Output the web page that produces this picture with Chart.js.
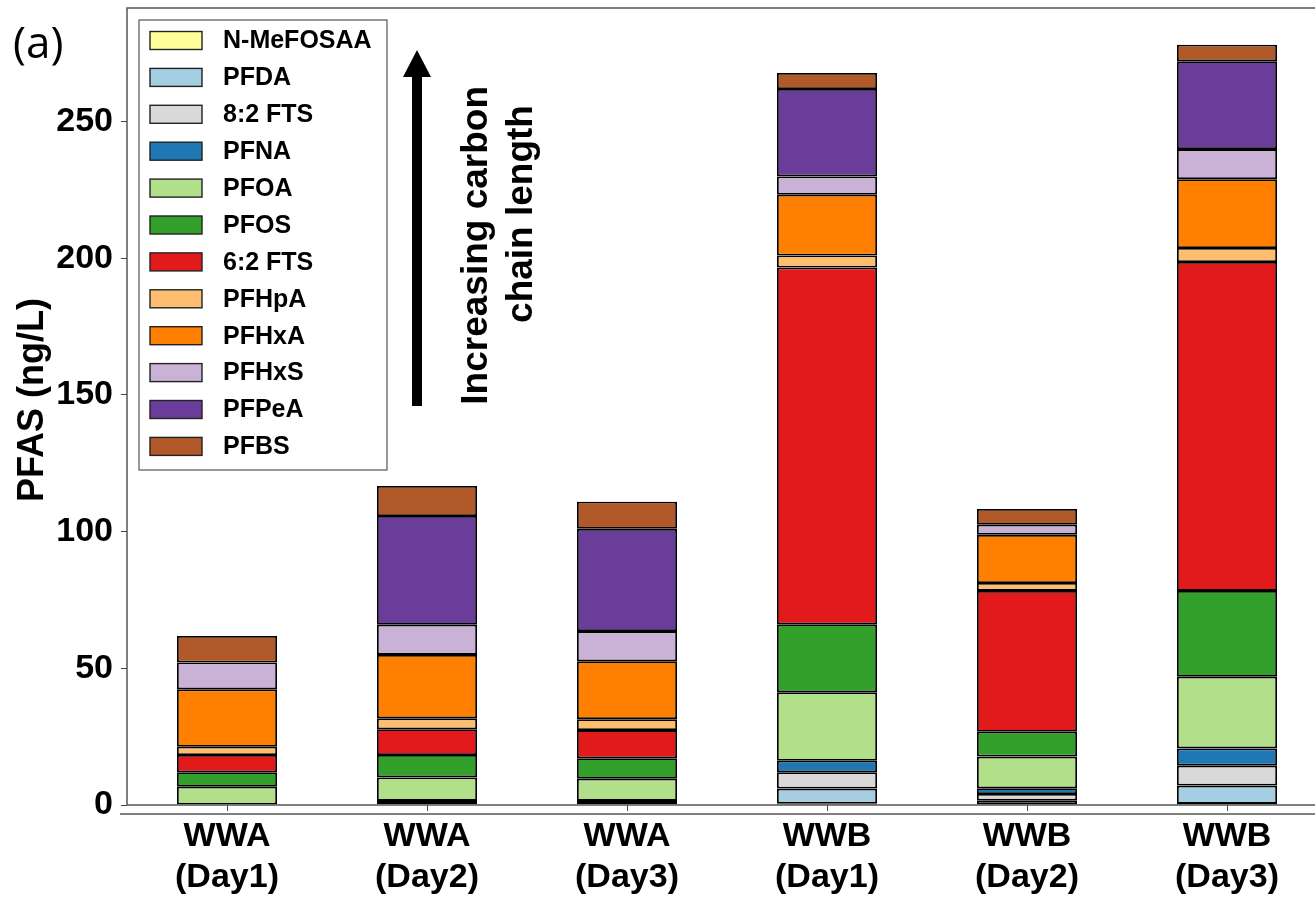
<!DOCTYPE html>
<html>
<head>
<meta charset="utf-8">
<script src="https://cdn.jsdelivr.net/npm/chart.js@4.4.1/dist/chart.umd.min.js"></script>
<style>
    html, body { margin: 0; padding: 0; background: #fff; overflow: hidden; }
    #pfasChart { display: block; }
</style>
</head>
<body>
<canvas id="pfasChart" width="1330" height="900" style="width:1330px;height:900px"></canvas>
<script>
// categories (two-line labels)
const categories = [
    ["WWA", "(Day1)"], ["WWA", "(Day2)"], ["WWA", "(Day3)"],
    ["WWB", "(Day1)"], ["WWB", "(Day2)"], ["WWB", "(Day3)"]
];

// series, bottom of stack first (also legend order)
const seriesNames = ["N-MeFOSAA", "PFDA", "8:2 FTS", "PFNA", "PFOA", "PFOS",
    "6:2 FTS", "PFHpA", "PFHxA", "PFHxS", "PFPeA", "PFBS"];
const seriesColors = ["#ffff99", "#a6cee3", "#d9d9d9", "#1f78b4", "#b2df8a", "#33a02c",
    "#e31a1c", "#fdbf6f", "#ff7f00", "#cab2d6", "#6a3d9a", "#b15928"];

// ng/L
const nMeFOSAA = [0, 0, 0, 0.5, 0, 0.4];
const pfda     = [0, 0.3, 0.3, 5.5, 1.6, 6.7];
const fts82    = [0, 0, 0, 6.0, 2.4, 7.3];
const pfna     = [0, 1.2, 1.2, 4.2, 2.1, 6.3];
const pfoa     = [6.7, 8.6, 8.1, 25.0, 11.6, 26.2];
const pfos     = [5.3, 8.2, 7.5, 24.9, 9.1, 31.4];
const fts62    = [6.3, 9.4, 10.3, 130.5, 51.5, 120.3];
const pfhpa    = [3.0, 4.0, 4.0, 4.4, 2.9, 5.1];
const pfhxa    = [21.0, 23.2, 21.2, 22.2, 17.6, 25.2];
const pfhxs    = [9.8, 11.0, 11.0, 6.7, 3.7, 11.0];
const pfpea    = [0, 39.8, 37.4, 32.0, 0, 32.1];
const pfbs     = [9.7, 11.0, 9.9, 5.8, 5.8, 6.1];

const seriesValues = [nMeFOSAA, pfda, fts82, pfna, pfoa, pfos, fts62, pfhpa, pfhxa, pfhxs, pfpea, pfbs];

const yTicks = [0, 50, 100, 150, 200, 250];
const yMax = 291.5;

const FONT = "'Liberation Sans', Arial, sans-serif";

// frame, legend, arrow and annotations
const decorPlugin = {
    id: "decor",
    afterDraw(chart) {
        const ctx = chart.ctx;
        const area = chart.chartArea;
        ctx.save();

        // axes frame
        ctx.strokeStyle = "#555";
        ctx.lineWidth = 1.5;
        ctx.strokeRect(area.left, area.top, area.right - area.left, area.bottom - area.top);
        ctx.beginPath();
        ctx.moveTo(area.left - 7, area.bottom + 9);
        ctx.lineTo(chart.width, area.bottom + 9);
        ctx.stroke();

        // panel tag
        ctx.fillStyle = "#000";
        ctx.font = "44px 'Open Sans', sans-serif";
        ctx.textAlign = "left";
        ctx.textBaseline = "middle";
        ctx.fillText("(a)", 13, 45);

        // y title
        ctx.save();
        ctx.translate(33, 400);
        ctx.rotate(-Math.PI / 2);
        ctx.font = "bold 36px " + FONT;
        ctx.textAlign = "center";
        ctx.textBaseline = "middle";
        ctx.fillText("PFAS (ng/L)", 0, 0);
        ctx.restore();

        // legend
        const lx = 139, ly = 20, lw = 248, lh = 450;
        ctx.fillStyle = "#fff";
        ctx.fillRect(lx, ly, lw, lh);
        ctx.strokeStyle = "#555";
        ctx.lineWidth = 1.2;
        ctx.strokeRect(lx, ly, lw, lh);
        ctx.font = "bold 25px " + FONT;
        ctx.textAlign = "left";
        ctx.textBaseline = "middle";
        seriesNames.forEach((name, i) => {
            const cy = 40.5 + i * 36.9;
            ctx.fillStyle = seriesColors[i];
            ctx.fillRect(150, cy - 9, 52, 18);
            ctx.strokeStyle = "#222";
            ctx.lineWidth = 1.4;
            ctx.strokeRect(150, cy - 9, 52, 18);
            ctx.fillStyle = "#000";
            ctx.fillText(name, 223, cy + 1);
        });

        // arrow
        ctx.fillStyle = "#000";
        ctx.fillRect(412, 74, 10, 332);
        ctx.beginPath();
        ctx.moveTo(417, 50);
        ctx.lineTo(431, 77);
        ctx.lineTo(403, 77);
        ctx.closePath();
        ctx.fill();

        // arrow text
        ctx.save();
        ctx.font = "bold 37px " + FONT;
        ctx.textAlign = "right";
        ctx.textBaseline = "middle";
        ctx.translate(477, 86);
        ctx.rotate(-Math.PI / 2);
        ctx.fillText("Increasing carbon", 0, 0);
        ctx.restore();
        ctx.save();
        ctx.font = "bold 37px " + FONT;
        ctx.textAlign = "center";
        ctx.textBaseline = "middle";
        ctx.translate(522, 214);
        ctx.rotate(-Math.PI / 2);
        ctx.fillText("chain length", 0, 0);
        ctx.restore();

        ctx.restore();
    }
};

document.addEventListener("DOMContentLoaded", () => {
    const chartCtx = document.getElementById("pfasChart");
    new Chart(chartCtx, {
        type: "bar",
        data: {
            labels: categories,
            datasets: seriesNames.map((name, i) => ({
                label: name,
                data: seriesValues[i],
                backgroundColor: seriesColors[i],
                borderColor: "#000",
                borderWidth: 1.8,
                borderSkipped: false,
                categoryPercentage: 1.0,
                barPercentage: 0.5
            }))
        },
        options: {
            responsive: false,
            animation: false,
            devicePixelRatio: 1,
            layout: {
                padding: { top: 8, right: 3, left: 0, bottom: 0 }
            },
            plugins: {
                legend: { display: false },
                tooltip: { enabled: false }
            },
            scales: {
                x: {
                    stacked: true,
                    offset: true,
                    border: { display: false },
                    grid: {
                        offset: false,
                        drawOnChartArea: false,
                        drawTicks: true,
                        tickLength: 6,
                        color: "#444"
                    },
                    ticks: {
                        color: "#000",
                        padding: 6,
                        maxRotation: 0,
                        font: { family: FONT, size: 34, weight: "bold", lineHeight: 1.18 }
                    },
                    afterFit: (scale) => {
                        scale.height = 95;
                        scale.paddingLeft = 0;
                        scale.paddingRight = 0;
                    }
                },
                y: {
                    stacked: true,
                    min: 0,
                    max: yMax,
                    border: { display: false },
                    grid: {
                        drawOnChartArea: false,
                        drawTicks: true,
                        tickLength: 6,
                        color: "#444"
                    },
                    afterBuildTicks: (scale) => {
                        scale.ticks = yTicks.map(v => ({ value: v }));
                    },
                    ticks: {
                        color: "#000",
                        padding: 8,
                        font: { family: FONT, size: 34, weight: "bold" }
                    },
                    afterFit: (scale) => {
                        scale.width = 127;
                        scale.paddingTop = 0;
                        scale.paddingBottom = 0;
                    }
                }
            }
        },
        plugins: [decorPlugin]
    });
});
</script>
</body>
</html>
